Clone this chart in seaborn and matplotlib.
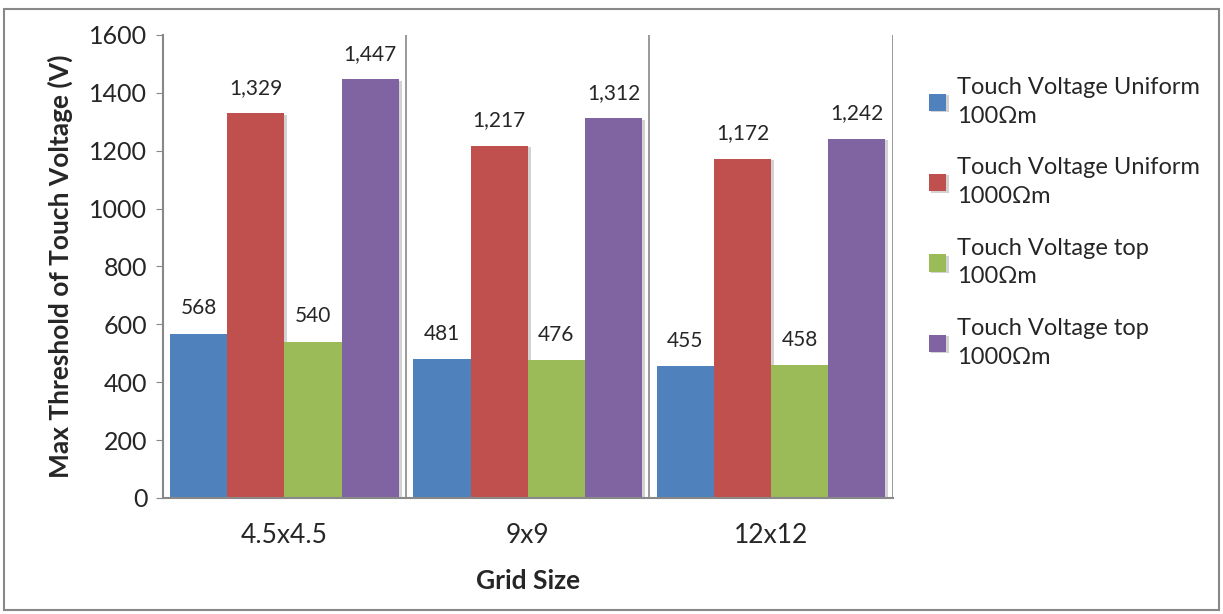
import pandas as pd
import numpy as np
import matplotlib.pyplot as plt
import matplotlib.patheffects as pe
import seaborn as sns

grid_sizes = ['4.5x4.5', '9x9', '12x12']
series_names = ['Touch Voltage Uniform\n100Ωm', 'Touch Voltage Uniform\n1000Ωm',
                'Touch Voltage top\n100Ωm', 'Touch Voltage top\n1000Ωm']
uniform_100 = [568, 481, 455]
uniform_1000 = [1329, 1217, 1172]
top_100 = [540, 476, 458]
top_1000 = [1447, 1312, 1242]
colors = ['#4F81BD', '#C0504D', '#9BBB59', '#8064A2']

rows = []
for name, vals in zip(series_names, [uniform_100, uniform_1000, top_100, top_1000]):
    for g, v in zip(grid_sizes, vals):
        rows.append({'grid': g, 'series': name, 'value': v})
df = pd.DataFrame(rows)

sns.set_style('white')
plt.rcParams['font.family'] = ['Lato', 'DejaVu Sans']

fig = plt.figure(figsize=(12.23, 6.14), dpi=100)
ax = fig.add_axes([0.133, 0.189, 0.597, 0.754])

sns.barplot(data=df, x='grid', y='value', hue='series', palette=colors,
            width=0.94, gap=0, saturation=1, linewidth=0, ax=ax, legend=True)

for bar in ax.patches:
    bar.set_path_effects([pe.SimplePatchShadow(offset=(2, -1), shadow_rgbFace='gray', alpha=0.35), pe.Normal()])

for cont in ax.containers:
    ax.bar_label(cont, labels=[f'{v:,.0f}' for v in cont.datavalues], padding=11, fontsize=15)

ax.set_ylim(0, 1600)
ax.set_xlim(-0.5, 2.5)
ax.set_yticks(range(0, 1601, 200))
ax.tick_params(axis='y', labelsize=18, length=5, color='#888888', direction='out', left=True, pad=6)
ax.tick_params(axis='x', labelsize=19, length=0, pad=18)

for xb in [0.5, 1.5, 2.5]:
    ax.axvline(xb, color='#888888', lw=1.2, zorder=0)

for s in ['top', 'right']:
    ax.spines[s].set_visible(False)
for s in ['left', 'bottom']:
    ax.spines[s].set_color('#888888')
    ax.spines[s].set_linewidth(1.5)

ax.set_xlabel('Grid Size', fontsize=19, fontweight='bold', labelpad=15)
ax.set_ylabel('Max Threshold of Touch Voltage (V)', fontsize=19, fontweight='bold', labelpad=12)

leg = ax.legend(loc='upper left', bbox_to_anchor=(1.02, 0.955), frameon=False, fontsize=17,
                handlelength=0.75, handleheight=0.75, handletextpad=0.45, labelspacing=1.3)
for t in leg.get_texts():
    t.set_linespacing(1.45)

fig.patches.append(plt.Rectangle((0.003, 0.006), 0.994, 0.98, transform=fig.transFigure,
                                 fill=False, edgecolor='#888888', lw=1.5))

fig.savefig('out.png', dpi=100)
